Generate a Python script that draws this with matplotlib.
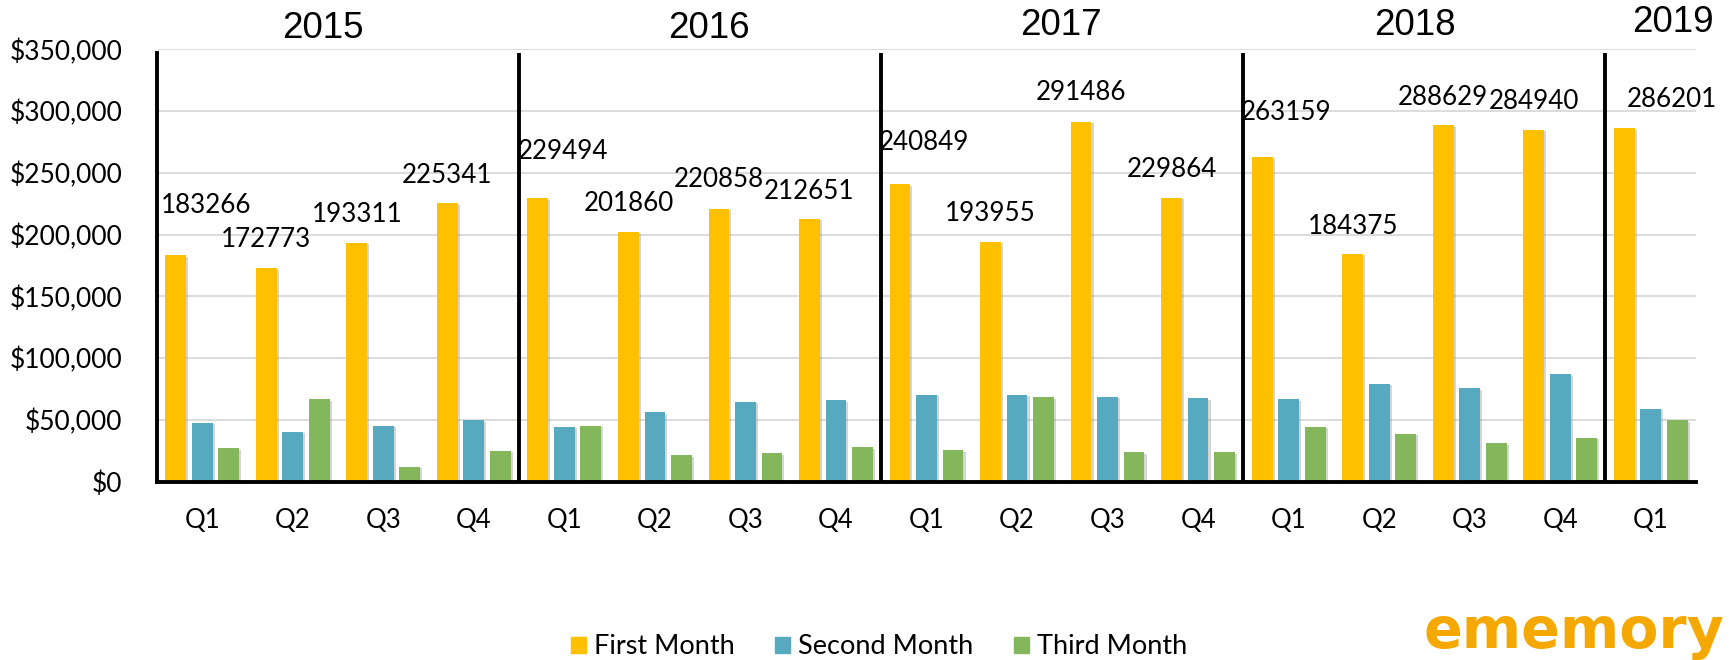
import matplotlib
matplotlib.use("Agg")
import matplotlib.pyplot as plt
import matplotlib.patheffects as pe
from matplotlib.patches import Patch
from matplotlib.ticker import FuncFormatter
import numpy as np

# --- data -------------------------------------------------------------
quarters = ["Q1", "Q2", "Q3", "Q4"] * 4 + ["Q1"]
years = ["2015", "2016", "2017", "2018", "2019"]
first_month = [183266, 172773, 193311, 225341, 229494, 201860, 220858, 212651,
               240849, 193955, 291486, 229864, 263159, 184375, 288629, 284940,
               286201]
second_month = [47500, 40500, 45200, 49800, 44600, 56200, 64800, 65800,
                70400, 70400, 68500, 67600, 66800, 79200, 75600, 86900,
                59000]
third_month = [26900, 66800, 12300, 25000, 45300, 21400, 23000, 27700,
               25500, 68400, 23900, 23900, 44500, 38700, 31100, 35400,
               49800]

# label placement (offsets from the First Month bar top, category units / $)
label_dx = [0.33, 0, 0, 0, 0.28, 0, 0, 0, 0.27, 0, 0, 0, 0.27, 0, 0, 0, 0.53]
label_dy = [40000, 23000, 23000, 22600, 38000, 23000, 23600, 22400,
            34000, 23000, 23500, 23000, 36000, 22500, 22000, 23000, 23000]
year_x = [1.33, 5.6, 9.48, 13.4, 16.25]
year_y = [366500, 366500, 369000, 369000, 372000]
separators = [3.5, 7.5, 11.5, 15.5]

C_FIRST, C_SECOND, C_THIRD = "#FFC000", "#57A9BF", "#84B75C"
FONT = ["Lato", "DejaVu Sans"]

# --- figure -----------------------------------------------------------
fig = plt.figure(figsize=(17.36, 6.6), dpi=100)
ax = fig.add_axes([157 / 1736, 1 - 481.7 / 660, (1696 - 157) / 1736,
                   (481.7 - 49.3) / 660])

x = np.arange(len(first_month))
w, off = 0.23, 0.293
shadow = [pe.SimplePatchShadow(offset=(1.5, -1), shadow_rgbFace="#888888", alpha=0.35),
          pe.Normal()]
for vals, dx, col in [(first_month, -off, C_FIRST),
                      (second_month, 0, C_SECOND),
                      (third_month, off, C_THIRD)]:
    bars = ax.bar(x + dx, vals, width=w, color=col, zorder=2)
    for b in bars:
        b.set_path_effects(shadow)

for i, v in enumerate(first_month):
    ax.text(x[i] - off + label_dx[i], v + label_dy[i], str(v), ha="center",
            va="center", fontsize=18.7, family=FONT, zorder=4, clip_on=False)

# year separators
ax.vlines(separators, 0, 347300, colors="black", lw=2.8, zorder=5)
for yr, yx, yy in zip(years, year_x, year_y):
    ax.text(yx, yy, yr, ha="center", va="center", fontsize=26.5,
            family=["Liberation Sans", "DejaVu Sans"], clip_on=False)

ax.set_xlim(-0.5, 16.5)
ax.set_ylim(0, 350000)
ax.set_yticks(np.arange(0, 350001, 50000))
ax.yaxis.set_major_formatter(FuncFormatter(lambda v, p: f"${v:,.0f}"))
ax.set_xticks(x)
ax.set_xticklabels(quarters)
ax.tick_params(axis="y", length=0, pad=25, labelsize=19)
ax.tick_params(axis="x", length=0, pad=19, labelsize=18.5)
for lab in ax.get_xticklabels() + ax.get_yticklabels():
    lab.set_family(FONT)

ax.yaxis.grid(True, color="#D9D9D9", lw=1.3, zorder=0)
ax.set_axisbelow(True)
for s in ["top", "right"]:
    ax.spines[s].set_visible(False)
ax.spines["left"].set_linewidth(2.8)
ax.spines["left"].set_bounds(0, 347300)
ax.spines["bottom"].set_linewidth(2.8)
ax.spines["left"].set_zorder(5)
ax.spines["bottom"].set_zorder(5)

handles = [Patch(color=C_FIRST, label="First Month"),
           Patch(color=C_SECOND, label="Second Month"),
           Patch(color=C_THIRD, label="Third Month")]
fig.legend(handles=handles, loc="center", bbox_to_anchor=(879 / 1736, 13 / 660),
           ncol=3, frameon=False, prop={"family": FONT, "size": 19.5},
           handlelength=0.55, handleheight=0.55, handletextpad=0.3,
           columnspacing=1.5, borderpad=0, borderaxespad=0)

# logo
fig.text(1424 / 1736, 12 / 660, "ememory", ha="left", va="baseline",
         fontsize=41, fontweight="bold", color="#F5A800", family="DejaVu Sans")

fig.savefig("out.png", dpi=100)
